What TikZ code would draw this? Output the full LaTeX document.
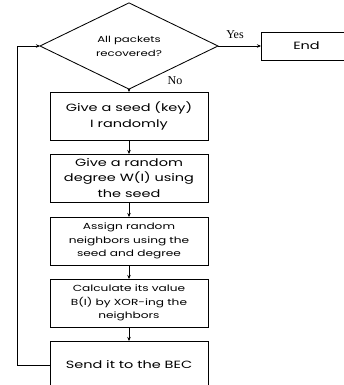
\documentclass[tikz,border=0pt]{standalone}
\usepackage{fontspec}
\setmainfont{Poppins}[FakeStretch=1.38]
\newfontfamily\labfont{Liberation Serif}
\usetikzlibrary{shapes.geometric,arrows.meta}

\begin{document}
\begin{tikzpicture}[x=1pt,y=-1pt,line width=0.85pt,
  every node/.style={outer sep=0pt, font=\fontsize{10.5}{15.5}\selectfont},
  stepbox/.style={draw, minimum width=158pt, minimum height=48pt, align=center, inner sep=1pt},
  smallbox/.style={stepbox, font=\fontsize{8.8}{13.3}\selectfont},
  arr/.style={-{Stealth[length=4pt,width=3.5pt]}}]
\useasboundingbox (0,0) rectangle (343,385);

\node[draw, diamond, minimum width=178pt, minimum height=73pt, inner sep=0pt,
  align=center, font=\fontsize{8.5}{14}\selectfont] (check) at (129,46) {All packets\\recovered?};
\node[draw, minimum width=91pt, minimum height=28pt] (finish) at (306.5,46) {End};

\node[stepbox] (seed) at (129,116) {Give a seed (key)\\I randomly};
\node[stepbox] (degree) at (129,178) {Give a random\\degree W(I) using\\the seed};
\node[smallbox] (neigh) at (129,241) {Assign random\\neighbors using the\\seed and degree};
\node[smallbox] (value) at (129,303) {Calculate its value\\B(I) by XOR-ing the\\neighbors};
\node[stepbox] (send) at (129,365) {Send it to the BEC};

\node[font=\labfont\fontsize{12}{13}\selectfont] (yes) at (235,35) {Yes};
\node[font=\labfont\fontsize{12}{13}\selectfont] (no) at (175,81) {No};

\draw[arr] (check.east) -- (finish.west);
\draw[arr] (check.south) -- (seed.north);
\draw[arr] (seed) -- (degree);
\draw[arr] (degree) -- (neigh);
\draw[arr] (neigh) -- (value);
\draw[arr] (value) -- (send);
\draw[arr] (send.west) -- ++(-33,0) |- (check.west);
\end{tikzpicture}
\end{document}
